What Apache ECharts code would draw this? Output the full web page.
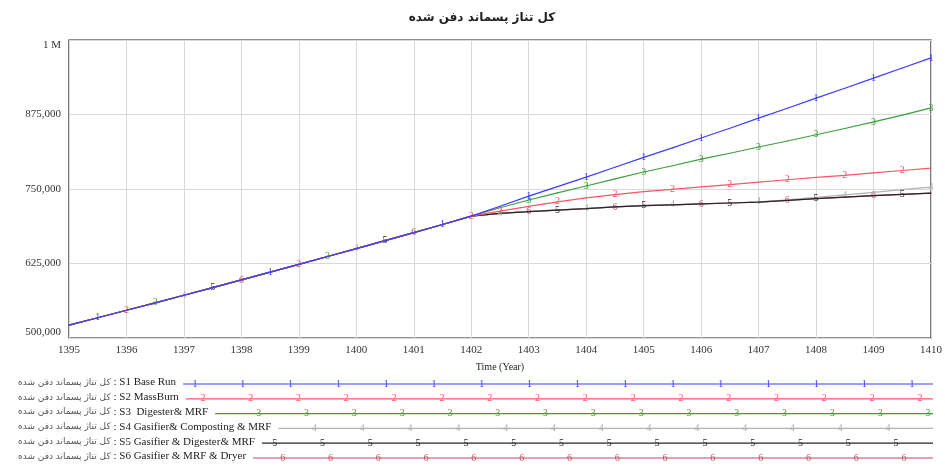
<!DOCTYPE html>
<html>
<head>
<meta charset="utf-8">
<script src="https://cdn.jsdelivr.net/npm/echarts@6/dist/echarts.min.js"></script>
<style>
  html, body { margin: 0; padding: 0; background: #fff; }
  #chart { width: 945px; height: 475px; }
</style>
</head>
<body>
<div id="chart"></div>
<script>
// Landfilled waste total (tonnes) under six scenarios, half-year steps
const titleText = 'کل تناژ پسماند دفن شده';
const variableName = 'کل تناژ پسماند دفن شده';
const scenarioNames = [
  'S1 Base Run',
  'S2 MassBurn',
  'S3  Digester& MRF',
  'S4 Gasifier& Composting & MRF',
  'S5 Gasifier & Digester& MRF',
  'S6 Gasifier & MRF & Dryer'
];
const years = [
  1395, 1395.5, 1396, 1396.5, 1397, 1397.5, 1398, 1398.5, 1399, 1399.5, 1400,
  1400.5, 1401, 1401.5, 1402, 1402.5, 1403, 1403.5, 1404, 1404.5, 1405,
  1405.5, 1406, 1406.5, 1407, 1407.5, 1408, 1408.5, 1409, 1409.5, 1410
];
// common history, 1395 .. 1402
const sharedRun = [
  521500, 534000, 546500, 559000, 571800, 584600, 597500, 610500,
  623600, 636800, 650000, 663300, 676800, 690500, 704500
];
// scenario paths, 1402.5 .. 1410
const s1Late = [721000, 738000, 754000, 770000, 786500, 803000, 819000, 835500,
                852000, 869000, 885500, 902500, 919000, 936000, 953000, 970000];
const s2Late = [713000, 721000, 728500, 735000, 740500, 745500, 749500, 753500,
                757500, 761500, 765500, 769500, 773000, 777000, 781000, 785000];
const s3Late = [718500, 731500, 743500, 755000, 767000, 778500, 789000, 800000,
                810000, 820500, 830500, 841000, 851500, 862500, 874000, 886000];
const s4Late = [709000, 712500, 715000, 717000, 720000, 722000, 723500, 725000,
                726500, 728500, 732000, 736000, 740000, 744500, 749000, 753000];
const s5Late = [709000, 712000, 714500, 717000, 720000, 722000, 723500, 725000,
                726500, 728000, 731000, 734000, 736500, 739000, 741000, 743000];
const s6Late = [709000, 712000, 714500, 717000, 720000, 722000, 723500, 725000,
                726500, 728000, 731000, 734000, 736500, 739000, 741000, 743000];
const yTicks = [500000, 625000, 750000, 875000, 1000000];
const yTickLabels = ['500,000', '625,000', '750,000', '875,000', '1 M'];

const lateRuns = [s1Late, s2Late, s3Late, s4Late, s5Late, s6Late];
const colors = ['#3c3cff', '#ff5468', '#3a9f3a', '#b2b2b2', '#262626', '#c04a68'];
const lineZ = [9, 8, 7, 5, 6, 4];
const serif = '"Liberation Serif", "Times New Roman", serif';
const faFont = '"DejaVu Sans", "Noto Sans", sans-serif';

// which points carry a numbered marker
function isMarker(k, i) {
  if (i === 0) return false;
  if (i < sharedRun.length) return ((i - 1) % 6) === k;
  if (k < 3) return ((i + k) % 2) === 0;
  return ((i + k) % 3) === 0;
}

const series = lateRuns.map(function (late, k) {
  const values = sharedRun.concat(late);
  return {
    name: scenarioNames[k],
    type: 'line',
    z: lineZ[k],
    showSymbol: true,
    symbol: 'circle',
    symbolSize: 1,
    itemStyle: { color: colors[k] },
    lineStyle: { color: colors[k], width: 1.2 },
    label: {
      position: 'inside',
      formatter: String(k + 1),
      color: colors[k],
      fontFamily: serif,
      fontSize: 10
    },
    emphasis: { disabled: true },
    data: years.map(function (t, i) {
      return { value: [t, values[i]], label: { show: isMarker(k, i) } };
    })
  };
});

// legend rows: variable name, scenario name, sample line with numbered ticks
const measure = document.createElement('canvas').getContext('2d');
function textWidth(str, font) { measure.font = font; return measure.measureText(str).width; }

const legendX = 18, legendTop = 384, legendStep = 14.8, legendEnd = 933;
const legendGraphics = [];
scenarioNames.forEach(function (name, k) {
  const y = legendTop + k * legendStep;
  const enText = ' : ' + name;
  const w = textWidth(variableName, '9px ' + faFont) + textWidth(enText, '11px ' + serif);
  const x0 = legendX + w + 7;
  legendGraphics.push({
    type: 'text', left: legendX, top: y - 7,
    style: {
      text: '{fa|' + variableName + '}{en|' + enText + '}',
      rich: {
        fa: { fontFamily: faFont, fontSize: 9, fill: '#555', lineHeight: 14 },
        en: { fontFamily: serif, fontSize: 11, fill: '#222', lineHeight: 14 }
      }
    }
  });
  legendGraphics.push({
    type: 'line', shape: { x1: x0, y1: y, x2: legendEnd, y2: y },
    style: { stroke: colors[k], lineWidth: 1.2 }
  });
  for (let mx = 195 + 7.97 * k - 47.8 * 4; mx <= legendEnd; mx += 47.8) {
    if (mx < x0 + 4) continue;
    legendGraphics.push({
      type: 'text', x: mx, y: y,
      style: {
        text: String(k + 1), fill: colors[k], font: '10px ' + serif,
        align: 'center', verticalAlign: 'middle'
      }
    });
  }
});

const chart = echarts.init(document.getElementById('chart'), null, { renderer: 'canvas' });
chart.setOption({
  animation: false,
  backgroundColor: '#fff',
  grid: {
    left: 69, right: 10, top: 40, bottom: 137,
    show: true, borderColor: '#222', borderWidth: 1.2, backgroundColor: 'transparent'
  },
  xAxis: {
    type: 'value', min: 1395, max: 1410, interval: 1,
    axisLine: { show: false }, axisTick: { show: false },
    splitLine: { show: true, lineStyle: { color: '#d9d9d9', width: 1 } },
    axisLabel: {
      fontFamily: serif, fontSize: 11, color: '#333', margin: 7,
      formatter: function (v) { return String(v); }
    },
    name: 'Time (Year)', nameLocation: 'middle', nameGap: 24,
    nameTextStyle: { fontFamily: serif, fontSize: 10, color: '#222' }
  },
  yAxis: {
    type: 'value', min: 500000, max: 1000000, interval: 125000,
    axisLine: { show: false }, axisTick: { show: false },
    splitLine: { show: true, lineStyle: { color: '#d9d9d9', width: 1 } },
    axisLabel: {
      fontFamily: serif, fontSize: 11, color: '#333', margin: 8,
      verticalAlignMinLabel: 'bottom', verticalAlignMaxLabel: 'top',
      formatter: function (v) {
        const idx = yTicks.indexOf(v);
        return idx >= 0 ? yTickLabels[idx] : '';
      }
    }
  },
  graphic: [{
    type: 'text', x: 482, y: 18,
    style: {
      text: titleText, fill: '#222', font: 'bold 12px ' + faFont,
      align: 'center', verticalAlign: 'middle'
    }
  }].concat(legendGraphics),
  series: series
});
</script>
</body>
</html>
